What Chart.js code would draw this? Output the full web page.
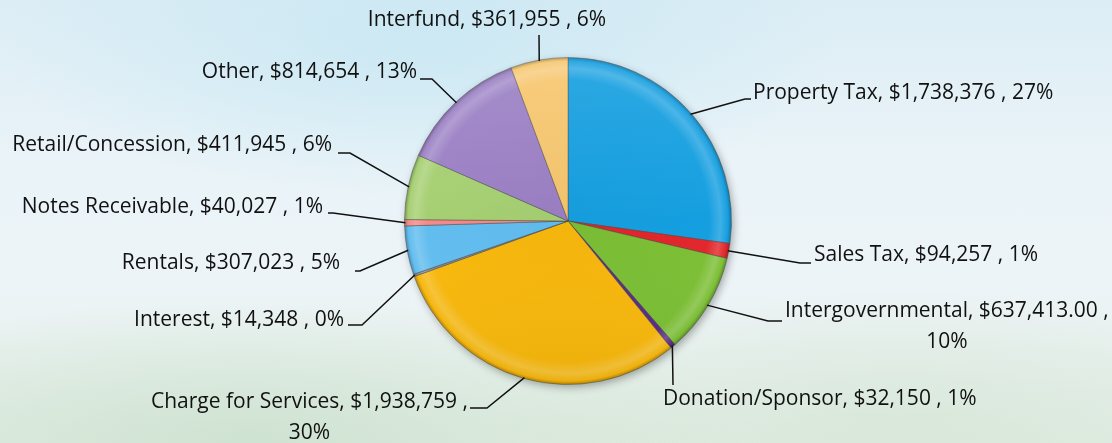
<!DOCTYPE html>
<html>
<head>
<meta charset="utf-8">
<script src="https://cdn.jsdelivr.net/npm/chart.js@4/dist/chart.umd.min.js"></script>
<style>
  html, body { margin: 0; padding: 0; }
  body {
    width: 1112px; height: 443px; overflow: hidden;
    background:
      radial-gradient(ellipse 420px 160px at 420px 40px, rgba(196,230,243,0.75), rgba(196,230,243,0) 100%),
      radial-gradient(ellipse 500px 140px at 250px 440px, rgba(205,226,208,0.9), rgba(205,226,208,0) 100%),
      radial-gradient(ellipse 420px 140px at 900px 430px, rgba(214,230,216,0.8), rgba(214,230,216,0) 100%),
      linear-gradient(180deg, #dcedf5 0%, #e9f3f8 35%, #edf4f7 65%, #e2ede3 100%);
  }
  #wrap { position: relative; width: 1112px; height: 443px; }
</style>
</head>
<body>
<div id="wrap"><canvas id="pie"></canvas></div>
<script>
    // 데이터
    var categories = ["Property Tax", "Sales Tax", "Intergovernmental", "Donation/Sponsor",
        "Charge for Services", "Interest", "Rentals", "Notes Receivable",
        "Retail/Concession", "Other", "Interfund"];
    var amounts = [1738376, 94257, 637413, 32150, 1938759, 14348, 307023, 40027, 411945, 814654, 361955];
    var amountDecimals = [0, 0, 2, 0, 0, 0, 0, 0, 0, 0, 0];

    var sliceColors = ['#159fe0', '#e3262b', '#7cbf35', '#5b2c86', '#f8b80c', '#8c8c8c',
        '#62bdef', '#f28a8a', '#a6cf72', '#9b80c4', '#f6c66e'];

    // 라벨 배치 (파이 중심 기준 오프셋)
    // side: r = 앵커 오른쪽에 텍스트, l = 왼쪽, t = 위쪽 가운데
    var labelLayout = [
        { side: 'r', at: [185, -128], path: [[177, -122], [183, -122]] },
        { side: 'r', at: [246, 34],   path: [[232, 42], [243, 42]] },
        { side: 'r', at: [217, 90],   path: [[200, 100], [214, 100]], wrap: true },
        { side: 'r', at: [95, 178],   path: [[105, 164]] },
        { side: 'l', at: [-100, 181], path: [[-81, 187], [-98, 187]], wrap: true },
        { side: 'l', at: [-224, 99],  path: [[-206, 104], [-220, 104]] },
        { side: 'l', at: [-228, 42],  path: [[-208, 50], [-213, 50]] },
        { side: 'l', at: [-245, -14], path: [[-235, -8], [-240, -8]] },
        { side: 'l', at: [-236, -76], path: [[-218, -68], [-230, -68]] },
        { side: 'l', at: [-151, -149], path: [[-136, -142], [-148, -142]] },
        { side: 't', at: [-81, -201], path: [[-29, -186]] }
    ];

    var FONT = '21px "Open Sans", "Liberation Sans", Arial, sans-serif';

    function shade(hex, amt) {
        var n = parseInt(hex.slice(1), 16);
        var r = n >> 16, g = (n >> 8) & 255, b = n & 255;
        function f(c) {
            return Math.round(amt >= 0 ? c + (255 - c) * amt : c * (1 + amt));
        }
        return 'rgb(' + f(r) + ',' + f(g) + ',' + f(b) + ')';
    }

    function pieGeom(chart) {
        var a = chart.chartArea;
        return {
            x: (a.left + a.right) / 2,
            y: (a.top + a.bottom) / 2,
            r: Math.min(a.right - a.left, a.bottom - a.top) / 2
        };
    }

    function sliceFill(context) {
        var base = sliceColors[context.dataIndex];
        var chart = context.chart;
        if (!chart.chartArea) return base;
        var p = pieGeom(chart);
        var g = chart.ctx.createRadialGradient(p.x, p.y, 0, p.x, p.y, p.r);
        g.addColorStop(0, shade(base, -0.02));
        g.addColorStop(0.86, base);
        g.addColorStop(0.93, shade(base, 0.18));
        g.addColorStop(0.975, base);
        g.addColorStop(1, shade(base, -0.3));
        return g;
    }

    function fmtAmount(v, d) {
        return '$' + v.toLocaleString('en-US', { minimumFractionDigits: d, maximumFractionDigits: d });
    }

    // 그림자 + 하이라이트
    var shadowPlugin = {
        id: 'pieShadow',
        beforeDatasetsDraw: function(chart) {
            var ctx = chart.ctx, p = pieGeom(chart);
            ctx.save();
            ctx.shadowColor = 'rgba(0,0,0,0.35)';
            ctx.shadowBlur = 8;
            ctx.shadowOffsetX = 2;
            ctx.shadowOffsetY = 3;
            ctx.fillStyle = '#999';
            ctx.beginPath();
            ctx.arc(p.x, p.y, p.r - 1, 0, Math.PI * 2);
            ctx.fill();
            ctx.restore();
        },
        afterDatasetsDraw: function(chart) {
            var ctx = chart.ctx, p = pieGeom(chart);
            ctx.save();
            ctx.beginPath();
            ctx.arc(p.x, p.y, p.r, 0, Math.PI * 2);
            ctx.clip();
            var g = ctx.createLinearGradient(0, p.y - p.r, 0, p.y + p.r);
            g.addColorStop(0, 'rgba(255,255,255,0.10)');
            g.addColorStop(0.5, 'rgba(255,255,255,0)');
            g.addColorStop(1, 'rgba(0,0,0,0.05)');
            ctx.fillStyle = g;
            ctx.fillRect(p.x - p.r, p.y - p.r, p.r * 2, p.r * 2);
            ctx.restore();
        }
    };

    // 데이터 라벨 + 지시선
    var labelPlugin = {
        id: 'sliceLabels',
        afterDraw: function(chart) {
            var ctx = chart.ctx;
            var meta = chart.getDatasetMeta(0);
            var total = amounts.reduce(function(s, v) { return s + v; }, 0);
            ctx.save();
            ctx.font = FONT;
            ctx.fillStyle = '#111';
            ctx.strokeStyle = '#111';
            ctx.lineWidth = 1.5;
            ctx.textBaseline = 'middle';
            meta.data.forEach(function(arc, i) {
                var a = arc.getProps(['x', 'y', 'startAngle', 'endAngle', 'outerRadius'], true);
                var mid = (a.startAngle + a.endAngle) / 2;
                var L = labelLayout[i];

                ctx.beginPath();
                ctx.moveTo(a.x + Math.cos(mid) * (a.outerRadius - 1), a.y + Math.sin(mid) * (a.outerRadius - 1));
                L.path.forEach(function(pt) { ctx.lineTo(a.x + pt[0], a.y + pt[1]); });
                ctx.stroke();

                var pct = Math.round(amounts[i] / total * 100) + '%';
                var head = categories[i] + ', ' + fmtAmount(amounts[i], amountDecimals[i]);
                var lines = L.wrap ? [head + ' ,', pct] : [head + ' , ' + pct];
                var w = ctx.measureText(lines[0]).width;
                var ax = a.x + L.at[0], ay = a.y + L.at[1];
                var cx;
                if (L.side === 'r') cx = ax + w / 2;
                else if (L.side === 'l') cx = ax - w / 2;
                else cx = ax;
                ctx.textAlign = 'center';
                lines.forEach(function(t, k) {
                    ctx.fillText(t, cx, ay + k * 31);
                });
            });
            ctx.restore();
        }
    };

    new Chart(document.getElementById('pie'), {
        type: 'pie',
        data: {
            labels: categories,
            datasets: [{
                data: amounts,
                backgroundColor: sliceFill,
                borderColor: 'rgba(70,70,70,0.45)',
                borderWidth: 1
            }]
        },
        options: {
            responsive: true,
            maintainAspectRatio: false,
            animation: false,
            layout: { padding: { left: 404, right: 380, top: 57, bottom: 58 } },
            plugins: {
                legend: { display: false },
                tooltip: { enabled: false }
            }
        },
        plugins: [shadowPlugin, labelPlugin]
    });
</script>
</body>
</html>
